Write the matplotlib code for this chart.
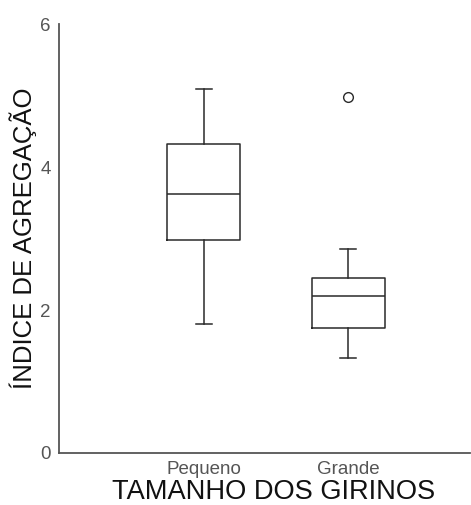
import matplotlib.pyplot as plt

# Box statistics
groups = ['Pequeno', 'Grande']
whislo = [1.80, 1.33]
q1 = [2.98, 1.75]
med = [3.62, 2.20]
q3 = [4.32, 2.45]
whishi = [5.10, 2.85]
fliers = [[], [4.98]]

plt.rcParams['font.family'] = ['Liberation Sans', 'DejaVu Sans']

stats = []
for i in range(len(groups)):
    stats.append({'label': groups[i], 'whislo': whislo[i], 'q1': q1[i], 'med': med[i],
                  'q3': q3[i], 'whishi': whishi[i], 'fliers': fliers[i]})

fig = plt.figure(figsize=(4.71, 5.05), dpi=100)
ax = fig.add_axes([0.125, 0.103, 0.873, 0.849])

line_col = '#2a2a2a'
ax.bxp(stats, positions=[1, 2], widths=0.5,
       boxprops=dict(color=line_col, linewidth=1.1),
       medianprops=dict(color=line_col, linewidth=1.1),
       whiskerprops=dict(color=line_col, linewidth=1.1),
       capprops=dict(color=line_col, linewidth=1.1),
       flierprops=dict(marker='o', markersize=7, markerfacecolor='white',
                       markeredgecolor=line_col, markeredgewidth=1.0),
       capwidths=0.11)

ax.set_xlim(0.0, 2.84)
ax.set_ylim(0, 6)
ax.set_yticks([0, 2, 4, 6])
ax.set_xticks([1, 2])
ax.set_xticklabels(groups)

for s in ['top', 'right']:
    ax.spines[s].set_visible(False)
for s in ['left', 'bottom']:
    ax.spines[s].set_color('#555555')
    ax.spines[s].set_linewidth(1.3)

ax.tick_params(axis='both', length=0, labelsize=13.5, labelcolor='#555555')
ax.tick_params(axis='y', pad=6)
ax.tick_params(axis='x', pad=6)

ax.set_xlabel('TAMANHO DOS GIRINOS', fontsize=19.6, color='#111111', labelpad=0.5, x=0.523)
ax.set_ylabel('ÍNDICE DE AGREGAÇÃO', fontsize=18.5, color='#111111', labelpad=2)

fig.savefig('out.png', dpi=100)
